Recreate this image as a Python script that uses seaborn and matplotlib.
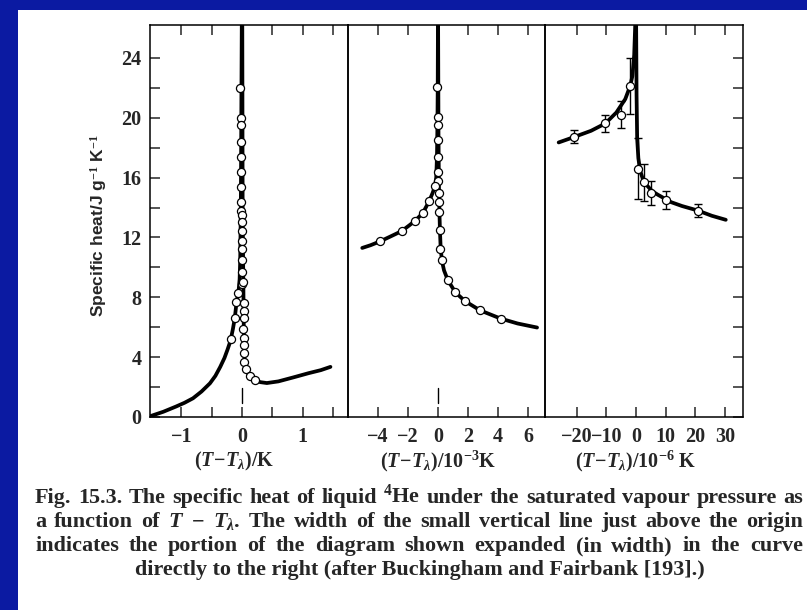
import numpy as np
import pandas as pd
import seaborn as sns
import matplotlib
matplotlib.use("Agg")
import matplotlib.pyplot as plt
from matplotlib.patches import Rectangle
from matplotlib.transforms import blended_transform_factory

# ---------------------------------------------------------------- data
# Panel 1: (T - T_lambda) in K
p1_left_x = [-1.52, -1.3, -1.09, -0.95, -0.81, -0.67, -0.53, -0.44, -0.36, -0.29,
             -0.24, -0.19, -0.15, -0.12, -0.09, -0.06, -0.04, -0.03, -0.02, -0.012, -0.004]
p1_left_y = [0.05, 0.35, 0.7, 0.95, 1.25, 1.7, 2.25, 2.75, 3.35, 3.95,
             4.5, 5.1, 5.9, 6.6, 7.7, 8.3, 9.2, 10.5, 14.0, 20.0, 26.5]
p1_right_x = [0.004, 0.01, 0.02, 0.025, 0.03, 0.035, 0.045, 0.07, 0.12, 0.2,
              0.3, 0.41, 0.6, 0.85, 1.1, 1.3, 1.46]
p1_right_y = [26.5, 14.0, 9.5, 7.5, 5.5, 4.3, 3.6, 3.15, 2.75, 2.48,
              2.33, 2.27, 2.38, 2.65, 2.93, 3.13, 3.35]
p1_pts_x = [-0.03, -0.02, -0.02, -0.02, -0.02, -0.015, -0.01, -0.01, -0.01, 0.0,
            0.0, 0.0, 0.0, 0.0, 0.0, 0.0, -0.005, -0.06, -0.10, -0.12, -0.19,
            0.02, 0.03, 0.03, 0.03, 0.02, 0.03, 0.03, 0.03, 0.04, 0.07, 0.125, 0.21]
p1_pts_y = [22.0, 20.0, 19.5, 18.4, 17.4, 16.4, 15.4, 14.4, 13.8, 13.5,
            13.0, 12.4, 11.75, 11.25, 10.5, 9.7, 8.9, 8.3, 7.7, 6.6, 5.2,
            9.0, 7.65, 7.1, 6.6, 5.9, 5.3, 4.8, 4.25, 3.7, 3.2, 2.75, 2.5]
p1_ticks = [-1, -0.5, 0, 0.5, 1, 1.5]
p1_ticklabels = ["\u22121", "", "0", "", "1", ""]

# Panel 2: (T - T_lambda) in 10^-3 K
p2_left_x = [-5.05, -4.5, -3.88, -3.2, -2.43, -1.9, -1.51, -1.0, -0.57, -0.35,
             -0.2, -0.12, -0.07, -0.04, -0.02, -0.005]
p2_left_y = [11.3, 11.48, 11.73, 12.05, 12.42, 12.82, 13.13, 13.65, 14.47, 15.0,
             15.45, 16.0, 17.4, 19.5, 22.0, 26.5]
p2_right_x = [0.005, 0.03, 0.06, 0.08, 0.1, 0.13, 0.18, 0.27, 0.4, 0.66,
              1.16, 1.79, 2.8, 4.17, 5.3, 6.6]
p2_right_y = [26.5, 19.0, 15.5, 14.5, 13.5, 12.4, 11.2, 10.4, 9.8, 9.13,
              8.33, 7.75, 7.13, 6.58, 6.25, 5.98]
p2_pts_x = [-0.08, -0.02, -0.02, -0.03, -0.01, 0.0, -0.01, -0.2, 0.09, 0.08,
            0.06, 0.12, 0.16, 0.25, 0.66, 1.16, 1.79, 2.8, 4.17,
            -0.57, -1.0, -1.51, -2.43, -3.88]
p2_pts_y = [22.07, 20.07, 19.5, 18.5, 17.4, 16.4, 15.8, 15.45, 15.0, 14.4,
            13.7, 12.5, 11.25, 10.5, 9.13, 8.33, 7.75, 7.13, 6.58,
            14.47, 13.65, 13.13, 12.42, 11.73]
p2_ticks = [-4, -2, 0, 2, 4, 6]
p2_ticklabels = ["\u22124", "\u22122", "0", "2", "4", "6"]

# Panel 3: (T - T_lambda) in 10^-6 K, with error bars
p3_left_x = [-26.0, -21.0, -15.1, -10.3, -6.6, -3.6, -1.9, -1.2, -0.6, -0.2]
p3_left_y = [18.35, 18.7, 19.13, 19.62, 20.35, 21.25, 22.15, 22.8, 24.2, 26.5]
p3_right_x = [0.05, 0.2, 0.4, 0.8, 1.4, 2.4, 3.6, 5.4, 7.4, 11.8, 15.5, 20.8, 25.5, 30.2]
p3_right_y = [26.5, 21.5, 18.6, 17.3, 16.47, 15.85, 15.5, 15.1, 14.85, 14.36,
              14.1, 13.8, 13.45, 13.18]
p3_pts_x = [-20.7, -10.3, -5.2, -1.9, 0.6, 2.8, 5.2, 10.2, 20.8]
p3_pts_y = [18.73, 19.62, 20.2, 22.13, 16.6, 15.69, 14.98, 14.53, 13.8]
p3_err = [0.42, 0.55, 0.9, 1.86, 2.05, 1.25, 0.8, 0.6, 0.42]
p3_ticks = [-20, -10, 0, 10, 20, 30]
p3_ticklabels = ["\u221220", "\u221210", "0", "10", "20", "30"]

# short vertical bar just above the origin (panels 1 and 2)
origin_bar = (0.95, 1.95)

y_ticks = list(range(0, 26, 2))
y_ticklabels = [str(v) if v % 4 == 0 else "" for v in y_ticks]

xlabels = [r"$(T\!-\!T_{\lambda})$/K", r"$(T\!-\!T_{\lambda})$/10$^{-3}$K",
           r"$(T\!-\!T_{\lambda})$/10$^{-6}$ K"]
ylabel = r"Specific heat/J g$^{-1}$ K$^{-1}$"

caption_lines = [
    ["Fig.", "15.3.", "The", "specific", "heat", "of", "liquid", r"$^{4}$He", "under",
     "the", "saturated", "vapour", "pressure", "as"],
    ["a", "function", "of", r"$T$", "\u2212", r"$T_{\lambda}$.", "The", "width", "of",
     "the", "small", "vertical", "line", "just", "above", "the", "origin"],
    ["indicates", "the", "portion", "of", "the", "diagram", "shown", "expanded",
     "(in", "width)", "in", "the", "curve"],
]
caption_last = "directly to the right (after Buckingham and Fairbank [193].)"

# ---------------------------------------------------------------- style
sns.set_theme(style="ticks")
plt.rcParams.update({
    "font.family": ["Liberation Serif", "DejaVu Serif"],
    "font.weight": "bold",
    "mathtext.fontset": "custom",
    "mathtext.rm": "Liberation Serif:bold",
    "mathtext.it": "Liberation Serif:italic:bold",
    "mathtext.bf": "Liberation Serif:bold",
    "axes.linewidth": 1.1,
})

W, H = 807, 610
fig = plt.figure(figsize=(W / 100, H / 100), dpi=100)
fig.patch.set_facecolor("#0b1aa2")
fig.add_artist(Rectangle((18 / W, 0), 1 - 18 / W, (H - 10) / H,
                         transform=fig.transFigure, facecolor="white",
                         edgecolor="none", zorder=0))

def fx(px):
    return px / W

def fy(py):
    return (H - py) / H

top, bottom = 25, 417
edges = [150, 348, 545, 743]
xlims = [(-1.52, 1.75), (-6.0, 7.13), (-30.6, 36.0)]

axes = []
for i in range(3):
    ax = fig.add_axes([fx(edges[i]), fy(bottom), fx(edges[i + 1]) - fx(edges[i]),
                       (bottom - top) / H])
    ax.set_facecolor("none")
    ax.set_xlim(*xlims[i])
    ax.set_ylim(0, 26.2)
    for s in ax.spines.values():
        s.set_linewidth(1.1)
        s.set_color("black")
    axes.append(ax)

ax1, ax2, ax3 = axes
curve_kw = dict(color="black", linewidth=2.7, sort=False, estimator=None, legend=False)
pt_kw = dict(s=34, color="white", edgecolor="black", linewidth=0.9, zorder=5, legend=False)

def draw_curve(ax, xs, ys):
    df = pd.DataFrame({"x": xs, "y": ys})
    sns.lineplot(data=df, x="x", y="y", ax=ax, **curve_kw)

for ax, lx, ly, rx, ry in [(ax1, p1_left_x, p1_left_y, p1_right_x, p1_right_y),
                           (ax2, p2_left_x, p2_left_y, p2_right_x, p2_right_y),
                           (ax3, p3_left_x, p3_left_y, p3_right_x, p3_right_y)]:
    draw_curve(ax, lx, ly)
    draw_curve(ax, rx, ry)

ax3.errorbar(p3_pts_x, p3_pts_y, yerr=p3_err, fmt="none", ecolor="black",
             elinewidth=1.0, capsize=3.0, capthick=1.0, zorder=4)

for ax, px, py in [(ax1, p1_pts_x, p1_pts_y), (ax2, p2_pts_x, p2_pts_y),
                   (ax3, p3_pts_x, p3_pts_y)]:
    sns.scatterplot(x=px, y=py, ax=ax, **pt_kw)

for ax in (ax1, ax2):
    ax.plot([0, 0], list(origin_bar), color="black", linewidth=1.0)

# ticks
tick_font = dict(family="Liberation Serif", weight="bold", size=14.5)
for ax, t, tl in [(ax1, p1_ticks, p1_ticklabels), (ax2, p2_ticks, p2_ticklabels),
                  (ax3, p3_ticks, p3_ticklabels)]:
    ax.set_xticks(t)
    ax.set_xticklabels(tl, fontdict=tick_font)
    ax.tick_params(axis="x", direction="in", length=7, width=1.1, top=True,
                   bottom=True, pad=7)
    ax.set_xlabel("")
    ax.set_ylabel("")

ax1.set_yticks(y_ticks)
ax1.set_yticklabels(y_ticklabels, fontdict=tick_font)
ax1.tick_params(axis="y", direction="in", length=7, width=1.1, left=True,
                right=False, pad=6)
ax2.set_yticks([])
ax3.set_yticks(y_ticks)
ax3.tick_params(axis="y", direction="in", length=7, width=1.1, left=False,
                right=True, labelleft=False, labelright=False)

# axis titles under each panel, centred on T = T_lambda
label_x = [-0.13, 0.0, 0.0]
for ax, lab, lx in zip(axes, xlabels, label_x):
    tr = blended_transform_factory(ax.transData, fig.transFigure)
    ax.text(lx, fy(461), lab, transform=tr, ha="center", va="center",
            fontsize=14.5, fontweight="bold", family="Liberation Serif")

fig.text(fx(99), fy(226), ylabel, rotation=90, ha="center", va="center",
         fontsize=12.5, fontweight="bold", family="Liberation Sans")

# caption, justified between fixed margins; size chosen so the first
# line fits the text block with ordinary word spacing
x0, x1 = 35, 803
renderer = fig.canvas.get_renderer()
probe = fig.text(0, 0, " ".join(caption_lines[0]), fontsize=10, fontweight="bold",
                 family="Liberation Serif")
natural = probe.get_window_extent(renderer).width
probe.remove()
cap_fs = min(16.5, 10 * (x1 - x0) / natural * 0.985)

baselines = [503, 527, 551, 575]
for line, base in zip(caption_lines, baselines):
    texts = [fig.text(0, fy(base), w, fontsize=cap_fs, fontweight="bold",
                      family="Liberation Serif", va="baseline", ha="left")
             for w in line]
    widths = [t.get_window_extent(renderer).width for t in texts]
    gap = (x1 - x0 - sum(widths)) / (len(texts) - 1)
    pos = x0
    for t, w in zip(texts, widths):
        t.set_x(fx(pos))
        pos += w + gap
fig.text(fx(420), fy(baselines[3]), caption_last, fontsize=cap_fs, fontweight="bold",
         family="Liberation Serif", va="baseline", ha="center")

fig.savefig("out.png", dpi=100, facecolor=fig.get_facecolor())
